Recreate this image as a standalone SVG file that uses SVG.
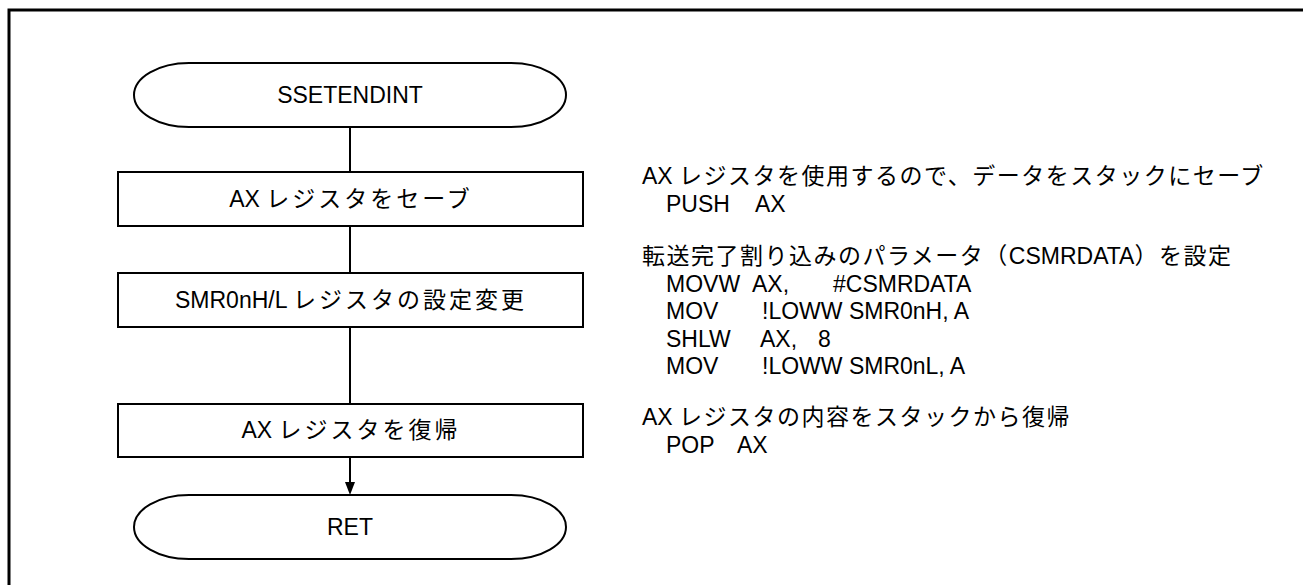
<svg xmlns="http://www.w3.org/2000/svg" width="1303" height="585" viewBox="0 0 1303 585">
<style>
text{font-family:"Liberation Sans","Noto Sans CJK JP",sans-serif;font-size:23px;fill:#000}
.c{text-anchor:middle}
.jb{letter-spacing:3px}
.jr{letter-spacing:1.5px}
.shape{fill:#fff;stroke:#000;stroke-width:2}
.conn{stroke:#000;stroke-width:2;fill:none}
</style>
<rect width="1303" height="585" fill="#fff"/>
<path d="M9,590 V10 H1310" fill="none" stroke="#000" stroke-width="3"/>
<g id="connectors">
<line class="conn" x1="350" y1="127" x2="350" y2="172"/>
<line class="conn" x1="350" y1="226" x2="350" y2="273"/>
<line class="conn" x1="350" y1="327" x2="350" y2="404"/>
<path d="M350,457 V483" class="conn"/>
<path d="M345,482 L355,482 L350,495 Z" fill="#000"/>
</g>
<g id="start">
<path class="shape" d="M189,63 H511 A55 32 0 0 1 511,127 H189 A55 32 0 0 1 189,63 Z"/>
<text class="c" x="350" y="103">SSETENDINT</text>
</g>
<g id="save">
<rect class="shape" x="118" y="172" width="465" height="54"/>
<text class="c" x="351" y="207">AX <tspan class="jb">レジスタをセーブ</tspan></text>
</g>
<g id="setsmr">
<rect class="shape" x="118" y="273" width="465" height="54"/>
<text class="c" x="351" y="308">SMR0nH/L <tspan class="jb">レジスタの設定変更</tspan></text>
</g>
<g id="restore">
<rect class="shape" x="118" y="404" width="465" height="53"/>
<text class="c" x="351" y="438">AX <tspan class="jb">レジスタを復帰</tspan></text>
</g>
<g id="ret">
<path class="shape" d="M189,495 H511 A55 32 0 0 1 511,559 H189 A55 32 0 0 1 189,495 Z"/>
<text class="c" x="350" y="535">RET</text>
</g>
<g id="notes">
<text x="642" y="184">AX <tspan class="jr">レジスタを使用するので、データをスタックにセーブ</tspan></text>
<text y="212"><tspan x="666">PUSH</tspan><tspan x="755">AX</tspan></text>
<text x="642" y="264"><tspan class="jr">転送完了割り込みのパラメータ（</tspan>CSMRDATA<tspan class="jr">）を設定</tspan></text>
<text y="292"><tspan x="666">MOVW</tspan><tspan x="752">AX,</tspan><tspan x="833">#CSMRDATA</tspan></text>
<text y="319"><tspan x="666">MOV</tspan><tspan x="762">!LOWW SMR0nH, A</tspan></text>
<text y="347"><tspan x="666">SHLW</tspan><tspan x="760">AX,</tspan><tspan x="818">8</tspan></text>
<text y="374"><tspan x="666">MOV</tspan><tspan x="762">!LOWW SMR0nL, A</tspan></text>
<text x="642" y="425">AX <tspan class="jr">レジスタの内容をスタックから復帰</tspan></text>
<text y="453"><tspan x="666">POP</tspan><tspan x="737">AX</tspan></text>
</g>
</svg>
